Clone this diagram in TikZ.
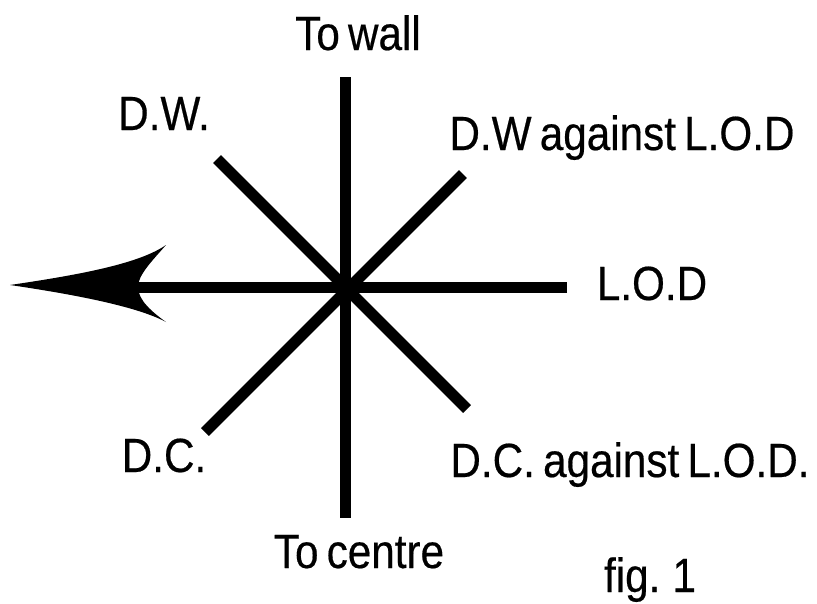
\documentclass[tikz,border=0pt]{standalone}
\usepackage{fontspec}
\setmainfont{Liberation Sans}[FakeStretch=0.88, WordSpace=0.7, FakeBold=0.4]

\begin{document}
\begin{tikzpicture}[x=1pt, y=-1pt,
      every node/.style={font=\fontsize{48}{56}\selectfont, inner sep=0pt, anchor=base},
      spoke/.style={line width=11pt}]
    \useasboundingbox (0,0) rectangle (817,603);
    \coordinate (C) at (345,287);
    \coordinate (wall) at (345,77);
    \coordinate (centre) at (345,518);
    \coordinate (lod) at (567,287);
    \coordinate (notch) at (138,287);
    \coordinate (dw) at (217,159);
    \coordinate (dcl) at (467,409);
    \coordinate (dwl) at (463,174);
    \coordinate (dc) at (205,432);
    \draw[spoke] (wall) -- (centre);
    \draw[spoke] (lod) -- (notch);
    \draw[spoke] (dw) -- (dcl);
    \draw[spoke] (dwl) -- (dc);
    \fill (10,285) .. controls (85,274) and (140,263) .. (166,245)
          .. controls (152,261) and (138,275) .. (notch)
          .. controls (138,300) and (152,312) .. (166,322)
          .. controls (140,308) and (85,296) .. (10,285) -- cycle;
    \node (towall) at (358,50) {To wall};
    \node (dwlabel) at (164,130) {D.W.};
    \node (dwllabel) at (622,150) {D.W against L.O.D};
    \node (lodlabel) at (652,300) {L.O.D};
    \node (dclabel) at (164,472) {D.C.};
    \node (dcllabel) at (630,477) {D.C. against L.O.D.};
    \node (tocentre) at (359,568) {To centre};
    \node (fig) at (650,592) {fig. 1};
  \end{tikzpicture}
\end{document}
